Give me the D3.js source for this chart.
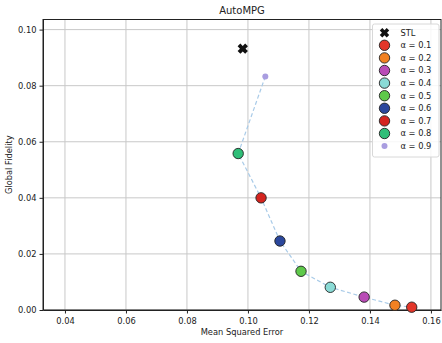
<!DOCTYPE html>
<html>
<head>
<meta charset="utf-8">
<script src="https://cdn.jsdelivr.net/npm/d3@7"></script>
<style>
  body { margin: 0; background: #fff; }
  text { font-family: "DejaVu Sans", sans-serif; fill: #222; }
</style>
</head>
<body>
<div id="chart"></div>
<script>
// data
const alphas = ["0.1", "0.2", "0.3", "0.4", "0.5", "0.6", "0.7", "0.8", "0.9"];
const mse = [0.1537, 0.1482, 0.1381, 0.1270, 0.1174, 0.1105, 0.1043, 0.0968, 0.1057];
const fidelity = [0.0010, 0.0017, 0.0046, 0.0081, 0.0138, 0.0246, 0.0400, 0.0558, 0.0833];
const colors = ["#e3362a", "#f28122", "#b94cb6", "#8adbd6", "#5ec94a", "#2b479c", "#d4241f", "#2fbe78", "#a99de0"];
const stl = { mse: 0.0983, fidelity: 0.0932 };
const xTicks = [0.04, 0.06, 0.08, 0.10, 0.12, 0.14, 0.16];
const yTicks = [0.00, 0.02, 0.04, 0.06, 0.08, 0.10];

const W = 442, H = 343;
const margin = { top: 19.5, right: 1, bottom: 33, left: 43 };
const width = W - margin.left - margin.right;
const height = H - margin.top - margin.bottom;

const svg = d3.select("#chart")
  .append("svg")
    .attr("width", W)
    .attr("height", H)

const g = svg.append("g")
  .attr("transform", `translate(${margin.left},${margin.top})`)

const x = d3.scaleLinear().domain([0.0328, 0.1633]).range([0, width])
const y = d3.scaleLinear().domain([0, 0.1036]).range([height, 0])

// grid
g.selectAll(".vgrid").data(xTicks).enter().append("line")
  .attr("x1", d => x(d)).attr("x2", d => x(d))
  .attr("y1", 0).attr("y2", height)
  .style("stroke", "#c8c8c8").style("stroke-width", 1)
g.selectAll(".hgrid").data(yTicks).enter().append("line")
  .attr("x1", 0).attr("x2", width)
  .attr("y1", d => y(d)).attr("y2", d => y(d))
  .style("stroke", "#c8c8c8").style("stroke-width", 1)

// axes
const xAxis = g.append("g")
  .attr("transform", `translate(0,${height})`)
  .call(d3.axisBottom(x).tickValues(xTicks).tickFormat(d3.format(".2f")).tickSize(3.5).tickSizeOuter(0))
const yAxis = g.append("g")
  .call(d3.axisLeft(y).tickValues(yTicks).tickFormat(d3.format(".2f")).tickSize(3.5).tickSizeOuter(0))
for (const a of [xAxis, yAxis]) {
  a.selectAll("text").style("font-size", "8.3px").style("font-family", "DejaVu Sans").style("fill", "#222")
  a.selectAll("line, path").style("stroke", "#222")
}
xAxis.selectAll("text").attr("dy", "0.9em")

// frame
g.append("rect")
  .attr("width", width).attr("height", height)
  .style("fill", "none").style("stroke", "#222").style("stroke-width", 1)

// dashed line from alpha 0.9 down to 0.1
const order = d3.range(alphas.length).reverse()
g.append("path")
  .datum(order)
  .attr("d", d3.line().x(i => x(mse[i])).y(i => y(fidelity[i])))
  .style("fill", "none")
  .style("stroke", "#a9cbe8")
  .style("stroke-width", 1.2)
  .style("stroke-dasharray", "4,2.5")

// points
const xMark = "M-2,-4.3L0,-2.3L2,-4.3L4.3,-2L2.3,0L4.3,2L2,4.3L0,2.3L-2,4.3L-4.3,2L-2.3,0L-4.3,-2Z"
g.append("path")
  .attr("d", xMark)
  .attr("transform", `translate(${x(stl.mse)},${y(stl.fidelity)}) scale(1.2)`)
  .style("fill", "#111")

g.selectAll(".pt").data(d3.range(alphas.length)).enter().append("circle")
  .attr("cx", i => x(mse[i]))
  .attr("cy", i => y(fidelity[i]))
  .attr("r", i => i === 8 ? 3 : 5.2)
  .style("fill", i => colors[i])
  .style("stroke", i => i === 8 ? "none" : "#222")
  .style("stroke-width", 0.9)

// legend
const leg = svg.append("g").attr("transform", "translate(372.5,24)")
leg.append("rect")
  .attr("width", 66.5).attr("height", 133).attr("rx", 2)
  .style("fill", "rgba(255,255,255,0.85)").style("stroke", "#d8d8d8")
const rowH = 12.6
leg.append("path")
  .attr("d", xMark)
  .attr("transform", `translate(12,${8.7}) scale(1.1)`)
  .style("fill", "#111")
leg.append("text").attr("x", 28).attr("y", 8.7).attr("dy", "0.35em")
  .style("font-size", "8.3px").text("STL")
alphas.forEach((a, i) => {
  const cy = 8.7 + rowH * (i + 1)
  leg.append("circle")
    .attr("cx", 12).attr("cy", cy)
    .attr("r", i === 8 ? 3 : 5.2)
    .style("fill", colors[i])
    .style("stroke", i === 8 ? "none" : "#222")
    .style("stroke-width", 0.9)
  leg.append("text").attr("x", 28).attr("y", cy).attr("dy", "0.35em")
    .style("font-size", "8.3px").text(`α = ${a}`)
})

// labels
svg.append("text")
  .attr("x", margin.left + width / 2).attr("y", 14)
  .attr("text-anchor", "middle")
  .style("font-size", "10px")
  .text("AutoMPG")
svg.append("text")
  .attr("x", margin.left + width / 2).attr("y", 335)
  .attr("text-anchor", "middle")
  .style("font-size", "8.3px")
  .text("Mean Squared Error")
svg.append("text")
  .attr("transform", `translate(12,${margin.top + height / 2}) rotate(-90)`)
  .attr("text-anchor", "middle")
  .style("font-size", "8.3px")
  .text("Global Fidelity")
</script>
</body>
</html>
